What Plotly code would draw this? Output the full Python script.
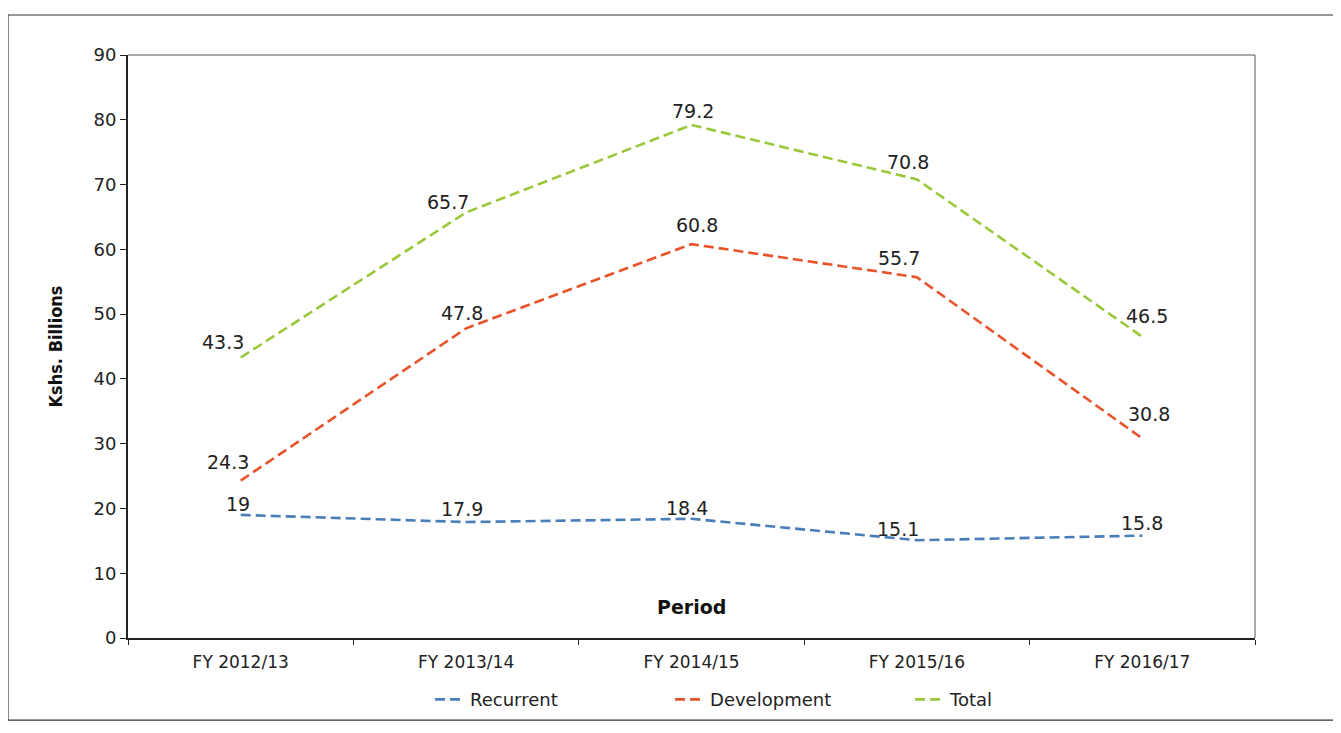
import plotly.graph_objects as go

periods = ["FY 2012/13", "FY 2013/14", "FY 2014/15", "FY 2015/16", "FY 2016/17"]
recurrent = [19, 17.9, 18.4, 15.1, 15.8]
development = [24.3, 47.8, 60.8, 55.7, 30.8]
total = [43.3, 65.7, 79.2, 70.8, 46.5]

y_ticks = [0, 10, 20, 30, 40, 50, 60, 70, 80, 90]

# label offsets (pixels: dx, dy upward) for data labels
rec_off = [(-3, 11), (-4, 13), (-5, 11), (-19, 11), (0, 13)]
dev_off = [(-13, 19), (-4, 15), (5, 19), (-18, 19), (7, 24)]
tot_off = [(-18, 16), (-18, 10), (1, 14), (-9, 17), (5, 21)]

FONT = "DejaVu Sans, Verdana, sans-serif"

fig = go.Figure()
annotations = []

def add(name, vals, color, offs):
    fig.add_trace(go.Scatter(
        x=periods, y=vals, name=name, mode="lines",
        line=dict(color=color, width=2.6, dash="10px,5px"),
        hoverinfo="x+y+name",
    ))
    for p, v, (dx, dy) in zip(periods, vals, offs):
        annotations.append(dict(
            x=p, y=v, xref="x", yref="y", text=str(v), showarrow=False,
            xanchor="center", yanchor="middle", xshift=dx, yshift=dy,
            font=dict(family=FONT, size=19, color="#222222"),
        ))

add("Recurrent", recurrent, "#4a7ebb", rec_off)
add("Development", development, "#e8532a", dev_off)
add("Total", total, "#9bc83a", tot_off)

annotations.append(dict(text="<b>Period</b>", x=0.5, y=0.053, xref="paper", yref="paper",
                        xanchor="center", yanchor="middle", showarrow=False,
                        font=dict(family=FONT, size=19, color="#111111")))

fig.update_layout(
    width=1333, height=725,
    margin=dict(l=120, r=86, t=47, b=95),
    paper_bgcolor="white", plot_bgcolor="white",
    font=dict(family=FONT, size=16, color="#222222"),
    showlegend=True,
    legend=dict(orientation="h", x=0.268, xanchor="left", y=-0.074, yanchor="top",
                bgcolor="rgba(0,0,0,0)",
                font=dict(family=FONT, size=18, color="#222222"),
                entrywidth=195, entrywidthmode="pixels", tracegroupgap=0),
    xaxis=dict(
        type="category", tickson="boundaries", ticks="outside", ticklen=5,
        tickcolor="#222222", showline=True, linecolor="#222222", linewidth=2,
        showgrid=False, tickfont=dict(family=FONT, size=17, color="#222222"),
        ticklabelstandoff=8,
        range=[-0.5, 4.5],
    ),
    yaxis=dict(
        range=[0, 90], tickvals=y_ticks, ticks="outside", ticklen=6,
        tickcolor="#222222", showline=True, linecolor="#222222", linewidth=2,
        showgrid=False, zeroline=False,
        tickfont=dict(family=FONT, size=18, color="#222222"),
        title=dict(text="<b>Kshs. Billions</b>", standoff=26,
                   font=dict(family="Liberation Sans Narrow, DejaVu Sans Condensed, sans-serif",
                             size=18, color="#111111")),
    ),
    annotations=annotations,
    shapes=[
        dict(type="line", xref="paper", yref="paper", x0=0, x1=1, y0=1, y1=1,
             line=dict(color="#555555", width=1)),
        dict(type="line", xref="paper", yref="paper", x0=1, x1=1, y0=0, y1=1,
             line=dict(color="#555555", width=1)),
        dict(type="rect", xref="paper", yref="paper",
             x0=-0.1065, x1=1.071, y0=-0.1407, y1=1.0686,
             line=dict(color="#333333", width=1.2)),
    ],
)

fig.write_html("out.html")
